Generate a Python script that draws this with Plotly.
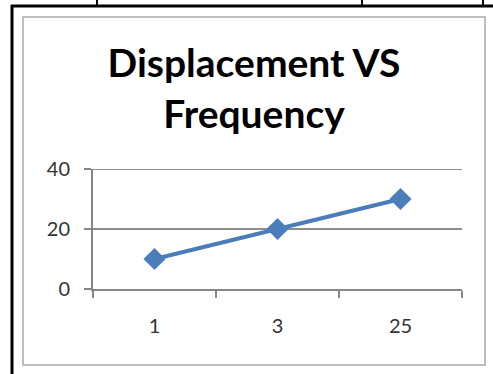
import plotly.graph_objects as go

categories = ["1", "3", "25"]
displacement = [10, 20, 30]
y_ticks = [0, 20, 40]
title_lines = ["Displacement VS", "Frequency"]

W, H = 493, 374
L, R, T, B = 93, 462, 169, 289  # plot area in pixels

def px(x):
    return (x - L) / (R - L)

def py(y):
    return (B - y) / (B - T)

fig = go.Figure()
fig.add_trace(go.Scatter(
    x=categories, y=displacement, mode="lines+markers",
    line=dict(color="#4A7EBB", width=4),
    marker=dict(symbol="diamond", size=17, color="#4A7EBB"),
    showlegend=False, cliponaxis=False,
))

shapes = [
    # inner gray chart border
    dict(type="rect", xref="paper", yref="paper",
         x0=px(23), x1=px(485), y0=py(365), y1=py(17),
         line=dict(color="#BDBDBD", width=2), layer="below"),
    # outer black page lines
    dict(type="line", xref="paper", yref="paper",
         x0=px(12), x1=px(12), y0=py(5), y1=py(380),
         line=dict(color="#000000", width=3)),
    dict(type="line", xref="paper", yref="paper",
         x0=px(11), x1=px(500), y0=py(6), y1=py(6),
         line=dict(color="#000000", width=3)),
    # top gridline (plotly drops gridlines at the range edge)
    dict(type="line", xref="paper", yref="y",
         x0=px(86), x1=1, y0=y_ticks[-1], y1=y_ticks[-1],
         line=dict(color="#8C8C8C", width=2), layer="below"),
]
for xv in (97, 362, 483):
    shapes.append(dict(type="line", xref="paper", yref="paper",
                       x0=px(xv), x1=px(xv), y0=py(-2), y1=py(6),
                       line=dict(color="#000000", width=2)))

fig.update_layout(
    width=W, height=H,
    margin=dict(l=L, r=W - R, t=T, b=H - B),
    paper_bgcolor="white", plot_bgcolor="white",
    title=dict(text="<br>".join(title_lines),
               x=254 / W, xref="container", xanchor="center",
               y=1 - 77 / H, yref="container", yanchor="middle",
               font=dict(family="Lato", size=39, color="#000000", weight="bold")),
    font=dict(family="Lato", size=20, color="#333333"),
    shapes=shapes,
    xaxis=dict(type="category", range=[-0.5, len(categories) - 0.5],
               showgrid=False, showline=True,
               linecolor="#868686", linewidth=2,
               ticks="outside", tickson="boundaries", ticklen=7,
               tickcolor="#868686", tickwidth=2,
               tickfont=dict(size=20), ticklabelstandoff=18),
    yaxis=dict(range=[0, 40], tickvals=y_ticks, showgrid=True,
               gridcolor="#8C8C8C", gridwidth=2,
               showline=True, linecolor="#868686", linewidth=2,
               ticks="outside", ticklen=7, tickcolor="#868686", tickwidth=2,
               tickfont=dict(size=20), ticklabelstandoff=10, zeroline=False),
)

fig.write_html("out.html", config={"displayModeBar": False},
               post_script="document.body.style.margin='0';")
